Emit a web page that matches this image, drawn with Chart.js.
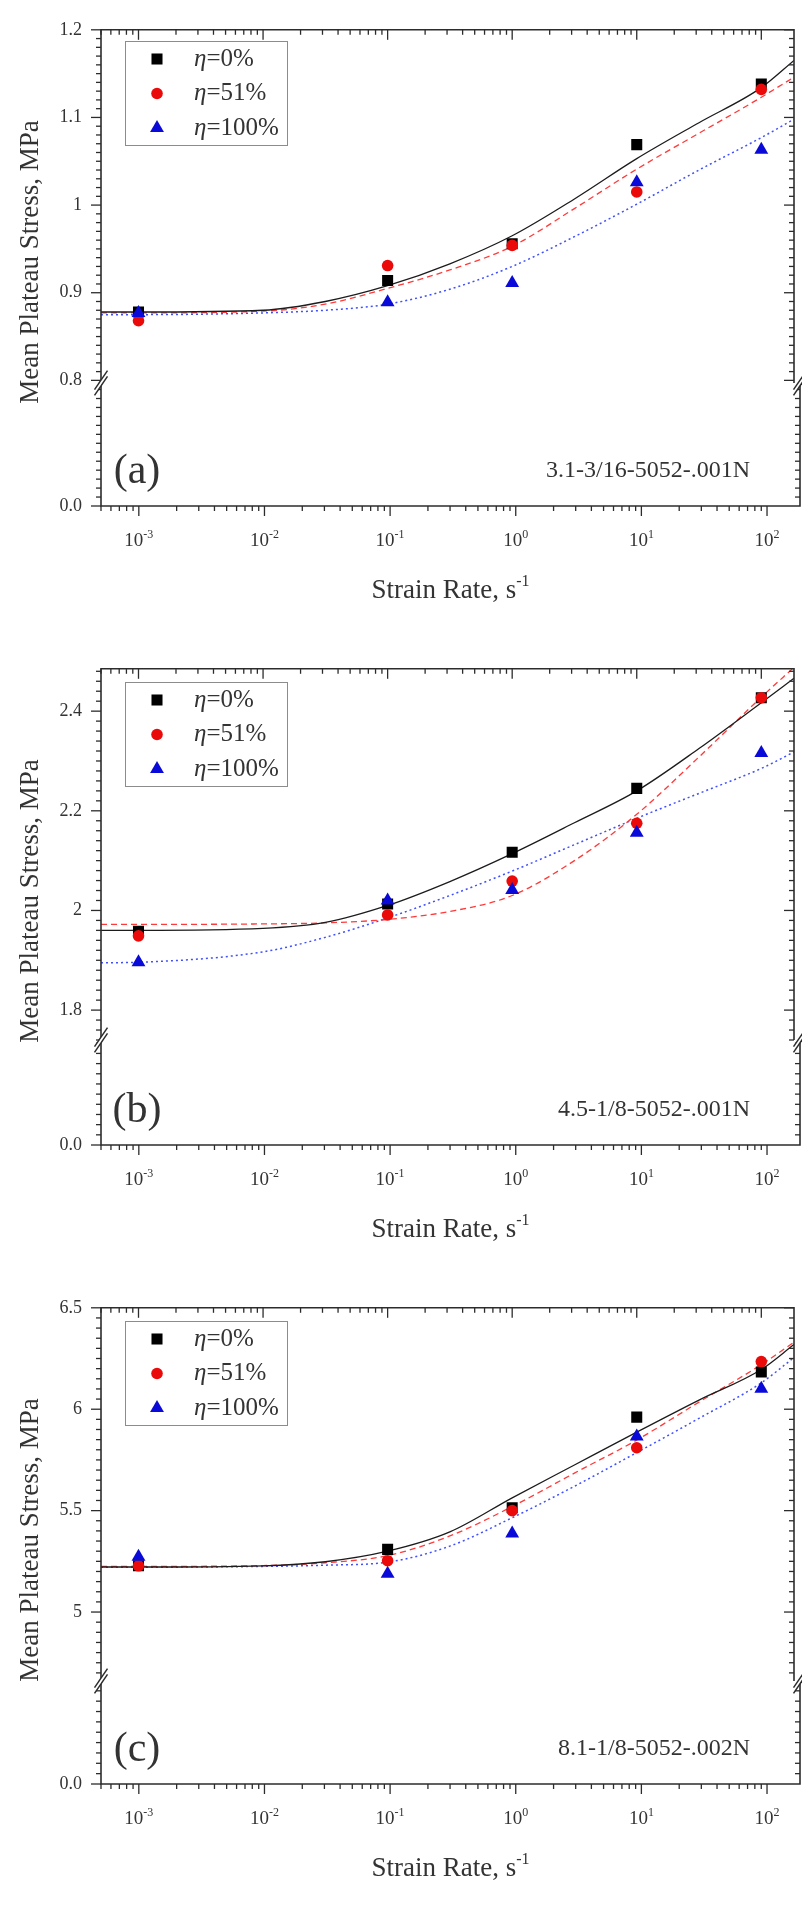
<!DOCTYPE html>
<html>
<head>
<meta charset="utf-8">
<title>Mean plateau stress vs strain rate</title>
<script src="https://cdn.jsdelivr.net/npm/chart.js@4.4.1/dist/chart.umd.min.js"></script>
<style>
  html, body { margin: 0; padding: 0; background: #ffffff; }
  .panel { position: relative; width: 802px; height: 639px; }
  .panel canvas { position: absolute; left: 0; top: 0; }
</style>
</head>
<body>
<div class="panel"><canvas id="a-up" width="802" height="639"></canvas><canvas id="a-low" width="802" height="639"></canvas></div>
<div class="panel"><canvas id="b-up" width="802" height="639"></canvas><canvas id="b-low" width="802" height="639"></canvas></div>
<div class="panel"><canvas id="c-up" width="802" height="639"></canvas><canvas id="c-low" width="802" height="639"></canvas></div>
<script>
// ---------------- data ----------------
// strain rates of the tests (1/s)
const rates = [1e-3, 1e-1, 1, 10, 100];
// strain rates at which the fitted curves are listed
const fitRates = [5e-4, 1e-3, 1e-2, 3.16e-2, 1e-1, 3.16e-1, 1, 3.16, 10, 31.6, 100, 183];
// decade ticks on the strain-rate axis and their exponents
const rateTicks = [1e-3, 1e-2, 1e-1, 1, 10, 100];
const rateExponents = ['-3', '-2', '-1', '0', '1', '2'];
const seriesLabels = ['0%', '51%', '100%'];

// (a) 3.1-3/16-5052-.001N
const stressA0 = [0.878, 0.914, 0.956, 1.069, 1.138];
const stressA51 = [0.868, 0.931, 0.954, 1.015, 1.132];
const stressA100 = [0.877, 0.889, 0.911, 1.026, 1.063];
const fitA0 = [0.878, 0.878, 0.880, 0.890, 0.908, 0.933, 0.965, 1.007, 1.053, 1.094, 1.134, 1.165];
const fitA51 = [0.877, 0.877, 0.879, 0.887, 0.905, 0.926, 0.953, 0.996, 1.041, 1.082, 1.123, 1.146];
const fitA100 = [0.875, 0.875, 0.877, 0.880, 0.887, 0.904, 0.930, 0.964, 1.001, 1.040, 1.077, 1.098];
const yTicksA = [0.8, 0.9, 1, 1.1, 1.2];
const yLabelsA = ['0.8', '0.9', '1', '1.1', '1.2'];

// (b) 4.5-1/8-5052-.001N
const stressB0 = [1.958, 2.013, 2.117, 2.245, 2.427];
const stressB51 = [1.949, 1.991, 2.059, 2.175, 2.427];
const stressB100 = [1.896, 2.020, 2.041, 2.156, 2.316];
const fitB0 = [1.960, 1.960, 1.964, 1.976, 2.010, 2.058, 2.114, 2.176, 2.240, 2.325, 2.417, 2.466];
const fitB51 = [1.972, 1.972, 1.973, 1.975, 1.982, 1.998, 2.030, 2.100, 2.193, 2.308, 2.428, 2.488];
const fitB100 = [1.895, 1.896, 1.917, 1.946, 1.985, 2.030, 2.079, 2.132, 2.185, 2.235, 2.285, 2.318];
const yTicksB = [1.8, 2, 2.2, 2.4];
const yLabelsB = ['1.8', '2', '2.2', '2.4'];

// (c) 8.1-1/8-5052-.002N
const stressC0 = [5.228, 5.309, 5.514, 5.961, 6.184];
const stressC51 = [5.228, 5.253, 5.500, 5.810, 6.235];
const stressC100 = [5.273, 5.189, 5.387, 5.866, 6.101];
const fitC0 = [5.222, 5.222, 5.228, 5.248, 5.300, 5.395, 5.563, 5.725, 5.887, 6.045, 6.196, 6.319];
const fitC51 = [5.225, 5.225, 5.229, 5.243, 5.278, 5.375, 5.520, 5.685, 5.848, 6.035, 6.220, 6.330];
const fitC100 = [5.221, 5.221, 5.225, 5.231, 5.246, 5.325, 5.465, 5.620, 5.786, 5.955, 6.130, 6.255];
const yTicksC = [5, 5.5, 6, 6.5];
const yLabelsC = ['5', '5.5', '6', '6.5'];

// ---------------- layout & style ----------------
const X_MIN = 5e-4, X_MAX = 183;
const PANEL_H = 639;
const PLOT_TOP = 22;      // top of the stress segment
const PLOT_BOTTOM = 506;  // 0.0 baseline
const Y_AXIS_W = 101;
const RIGHT_PAD = 2;
const MAJOR = 10, MINOR = 5;
const AXIS_COLOR = '#2c2c2c';
const TEXT_COLOR = '#333333';
const SERIF = '"Liberation Serif", "Times New Roman", serif';

const seriesStyle = [
  { color: '#000000', point: 'rect', radius: 7.8, line: '#1c1c1c', dash: [], width: 1.3 },
  { color: '#ea0a0a', point: 'circle', radius: 5.8, line: '#ff3a3a', dash: [6, 4], width: 1.3 },
  { color: '#0a0ad8', point: 'triangle', radius: 8, line: '#4050ff', dash: [2, 3], width: 1.5 }
];

const panels = [
  { upId: 'a-up', lowId: 'a-low', letter: '(a)', spec: '3.1-3/16-5052-.001N',
    yMin: 0.797, yMax: 1.2, breakY: 383, yTicks: yTicksA, yLabels: yLabelsA, yMinor: 0.01,
    pts: [stressA0, stressA51, stressA100], fits: [fitA0, fitA51, fitA100], legendTop: 41 },
  { upId: 'b-up', lowId: 'b-low', letter: '(b)', spec: '4.5-1/8-5052-.001N',
    yMin: 1.74, yMax: 2.485, breakY: 401, yTicks: yTicksB, yLabels: yLabelsB, yMinor: 0.02,
    pts: [stressB0, stressB51, stressB100], fits: [fitB0, fitB51, fitB100], legendTop: 43 },
  { upId: 'c-up', lowId: 'c-low', letter: '(c)', spec: '8.1-1/8-5052-.002N',
    yMin: 4.66, yMax: 6.5, breakY: 403, yTicks: yTicksC, yLabels: yLabelsC, yMinor: 0.05,
    pts: [stressC0, stressC51, stressC100], fits: [fitC0, fitC51, fitC100], legendTop: 43 }
];

// ---------------- drawing helpers ----------------
function seg(ctx, x1, y1, x2, y2) {
  ctx.beginPath(); ctx.moveTo(x1, y1); ctx.lineTo(x2, y2); ctx.stroke();
}

function logTickValues(min, max) {
  const out = [];
  for (let e = Math.floor(Math.log10(min)); e <= Math.ceil(Math.log10(max)); e++) {
    for (let m = 1; m <= 9; m++) {
      const v = m * Math.pow(10, e);
      if (v >= min * 0.999 && v <= max * 1.001) out.push({ v: v, major: m === 1 });
    }
  }
  return out;
}

// multiples of step lying inside [min, max]
function stepsWithin(min, max, step) {
  const out = [];
  for (let k = Math.ceil(min / step - 1e-9); k * step <= max + 1e-9; k++) {
    out.push(+(k * step).toFixed(6));
  }
  return out;
}

function drawMarker(ctx, s, x, y) {
  ctx.fillStyle = s.color;
  ctx.beginPath();
  if (s.point === 'rect') {
    const h = s.radius * Math.SQRT1_2;
    ctx.rect(x - h, y - h, 2 * h, 2 * h);
  } else if (s.point === 'circle') {
    ctx.arc(x, y, s.radius, 0, Math.PI * 2);
  } else {
    const r = s.radius;
    ctx.moveTo(x, y - r);
    ctx.lineTo(x + r * Math.sin(2 * Math.PI / 3), y + r * 0.5);
    ctx.lineTo(x - r * Math.sin(2 * Math.PI / 3), y + r * 0.5);
    ctx.closePath();
  }
  ctx.fill();
}

// base text with a raised exponent, centred on cx
function drawPower(ctx, base, exp, cx, baseline, baseSize, supSize, raise) {
  ctx.font = baseSize + 'px ' + SERIF;
  const wb = ctx.measureText(base).width;
  ctx.font = supSize + 'px ' + SERIF;
  const we = ctx.measureText(exp).width;
  const x0 = cx - (wb + we) / 2;
  ctx.textAlign = 'left';
  ctx.textBaseline = 'alphabetic';
  ctx.font = baseSize + 'px ' + SERIF;
  ctx.fillText(base, x0, baseline);
  ctx.font = supSize + 'px ' + SERIF;
  ctx.fillText(exp, x0 + wb, baseline - raise);
}

function breakMark(ctx, cx, cy) {
  const hx = 6.5, hy = 9.5, g = 2.8;
  const a1 = [cx - hx, cy + hy + g], a2 = [cx + hx, cy - hy + g];
  const b1 = [cx - hx, cy + hy - g], b2 = [cx + hx, cy - hy - g];
  ctx.fillStyle = '#ffffff';
  ctx.beginPath();
  ctx.moveTo(a1[0], a1[1]); ctx.lineTo(a2[0], a2[1]);
  ctx.lineTo(b2[0], b2[1]); ctx.lineTo(b1[0], b1[1]);
  ctx.closePath(); ctx.fill();
  ctx.strokeStyle = AXIS_COLOR; ctx.lineWidth = 1.5;
  seg(ctx, a1[0], a1[1], a2[0], a2[1]);
  seg(ctx, b1[0], b1[1], b2[0], b2[1]);
}

function drawLegend(ctx, p) {
  const left = 125, top = p.legendTop, w = 162, h = 104;
  ctx.save();
  ctx.strokeStyle = '#8c8c8c';
  ctx.lineWidth = 1;
  ctx.strokeRect(left + 0.5, top + 0.5, w, h);
  seriesStyle.forEach(function (s, i) {
    const cy = top + 18 + i * 34.5;
    drawMarker(ctx, s, left + 32, cy);
    ctx.fillStyle = TEXT_COLOR;
    ctx.textAlign = 'left';
    ctx.textBaseline = 'middle';
    ctx.font = 'italic 25px ' + SERIF;
    ctx.fillText('η', left + 69, cy);
    const wEta = ctx.measureText('η').width;
    ctx.font = '25px ' + SERIF;
    ctx.fillText('=' + seriesLabels[i], left + 69 + wEta, cy);
  });
  ctx.restore();
}

// frame, ticks and legend of the stress segment
function upperFrame(p) {
  return {
    id: 'upperFrame',
    afterDatasetsDraw(chart) {
      const ctx = chart.ctx, a = chart.chartArea;
      const x = chart.scales.x, y = chart.scales.y;
      ctx.save();
      ctx.strokeStyle = AXIS_COLOR;
      ctx.lineWidth = 1.6;
      ctx.beginPath();
      ctx.moveTo(a.left, a.bottom); ctx.lineTo(a.left, a.top);
      ctx.lineTo(a.right, a.top); ctx.lineTo(a.right, a.bottom);
      ctx.stroke();
      ctx.lineWidth = 1.3;
      stepsWithin(p.yMin, p.yMax, p.yMinor).forEach(function (v) {
        const py = y.getPixelForValue(v);
        const major = p.yTicks.some(function (t) { return Math.abs(t - v) < 1e-6; });
        const len = major ? MAJOR : MINOR;
        seg(ctx, a.left - len, py, a.left, py);
        seg(ctx, a.right - len, py, a.right, py);
      });
      logTickValues(X_MIN, X_MAX).forEach(function (t) {
        const px = x.getPixelForValue(t.v);
        seg(ctx, px, a.top, px, a.top + (t.major ? MAJOR : MINOR));
      });
      ctx.restore();
      drawLegend(ctx, p);
    }
  };
}

// frame of the 0.0 stub, strain-rate axis, titles and captions
function lowerFrame(p) {
  return {
    id: 'lowerFrame',
    afterDraw(chart) {
      const ctx = chart.ctx, a = chart.chartArea;
      const x = chart.scales.x, y = chart.scales.y;
      ctx.save();
      ctx.strokeStyle = AXIS_COLOR;
      ctx.lineWidth = 1.6;
      ctx.beginPath();
      ctx.moveTo(a.left, a.top); ctx.lineTo(a.left, a.bottom);
      ctx.lineTo(a.right, a.bottom); ctx.lineTo(a.right, a.top);
      ctx.stroke();
      ctx.lineWidth = 1.3;
      stepsWithin(0, p.stubMax, p.yMinor).forEach(function (v) {
        if (v >= p.stubMax - 1e-9) return;
        const py = y.getPixelForValue(v);
        if (v === 0) { seg(ctx, a.left - MAJOR, py, a.left, py); return; }
        seg(ctx, a.left - MINOR, py, a.left, py);
        seg(ctx, a.right - MINOR, py, a.right, py);
      });
      logTickValues(X_MIN, X_MAX).forEach(function (t) {
        const px = x.getPixelForValue(t.v);
        seg(ctx, px, a.bottom, px, a.bottom + (t.major ? MAJOR : MINOR));
      });

      breakMark(ctx, a.left, a.top);
      breakMark(ctx, a.right, a.top);

      ctx.fillStyle = TEXT_COLOR;
      rateTicks.forEach(function (r, i) {
        drawPower(ctx, '10', rateExponents[i], x.getPixelForValue(r), a.bottom + 40, 19, 12, 8);
      });
      drawPower(ctx, 'Strain Rate, s', '-1', (a.left + a.right) / 2, a.bottom + 92, 27, 16, 12);

      ctx.save();
      ctx.translate(31, 262);
      ctx.rotate(-Math.PI / 2);
      ctx.textAlign = 'center';
      ctx.textBaseline = 'middle';
      ctx.font = '27px ' + SERIF;
      ctx.fillText('Mean Plateau Stress, MPa', 0, 0);
      ctx.restore();

      ctx.textBaseline = 'middle';
      ctx.textAlign = 'center';
      ctx.font = '42px ' + SERIF;
      ctx.fillText(p.letter, 137, 472);
      ctx.textAlign = 'right';
      ctx.font = '24px ' + SERIF;
      ctx.fillText(p.spec, 750, 471);
      ctx.restore();
    }
  };
}

// ---------------- charts ----------------
panels.forEach(function (p) {
  // the 0.0 stub keeps the same value-per-pixel as the stress segment
  const perPx = (p.yMax - p.yMin) / (p.breakY - PLOT_TOP);
  p.stubMax = (PLOT_BOTTOM - p.breakY) * perPx;

  const datasets = [];
  p.fits.forEach(function (f, i) {
    const s = seriesStyle[i];
    datasets.push({
      label: 'fit ' + seriesLabels[i],
      data: fitRates.map(function (r, k) { return { x: r, y: f[k] }; }),
      showLine: true,
      pointRadius: 0,
      borderColor: s.line,
      borderWidth: s.width,
      borderDash: s.dash,
      cubicInterpolationMode: 'monotone',
      fill: false,
      order: 10 + i
    });
  });
  p.pts.forEach(function (v, i) {
    const s = seriesStyle[i];
    datasets.push({
      label: 'η=' + seriesLabels[i],
      data: rates.map(function (r, k) { return { x: r, y: v[k] }; }),
      showLine: false,
      pointStyle: s.point,
      pointRadius: s.radius,
      pointHoverRadius: s.radius,
      backgroundColor: s.color,
      borderColor: s.color,
      borderWidth: 0,
      order: 3 - i
    });
  });

  new Chart(document.getElementById(p.upId), {
    type: 'scatter',
    data: { datasets: datasets },
    options: {
      responsive: false,
      animation: false,
      devicePixelRatio: 1,
      layout: { padding: { top: PLOT_TOP, bottom: PANEL_H - p.breakY, left: 0, right: RIGHT_PAD } },
      plugins: { legend: { display: false }, tooltip: { enabled: false } },
      scales: {
        x: { type: 'logarithmic', min: X_MIN, max: X_MAX, display: false },
        y: {
          type: 'linear',
          min: p.yMin,
          max: p.yMax,
          afterFit: function (s) { s.width = Y_AXIS_W; },
          afterBuildTicks: function (s) { s.ticks = p.yTicks.map(function (v) { return { value: v }; }); },
          grid: { display: false, drawTicks: false },
          border: { display: false },
          ticks: {
            autoSkip: false,
            padding: 19,
            color: TEXT_COLOR,
            font: { family: SERIF, size: 18 },
            callback: function (value) {
              const i = p.yTicks.findIndex(function (t) { return Math.abs(t - value) < 1e-6; });
              return i >= 0 ? p.yLabels[i] : '';
            }
          }
        }
      }
    },
    plugins: [upperFrame(p)]
  });

  new Chart(document.getElementById(p.lowId), {
    type: 'scatter',
    data: { datasets: [] },
    options: {
      responsive: false,
      animation: false,
      devicePixelRatio: 1,
      layout: { padding: { top: p.breakY, bottom: 0, left: 0, right: RIGHT_PAD } },
      plugins: { legend: { display: false }, tooltip: { enabled: false } },
      scales: {
        x: {
          type: 'logarithmic', min: X_MIN, max: X_MAX, position: 'bottom',
          afterFit: function (s) { s.height = PANEL_H - PLOT_BOTTOM; },
          ticks: { display: false },
          grid: { display: false, drawTicks: false },
          border: { display: false }
        },
        y: {
          type: 'linear', min: 0, max: p.stubMax,
          afterFit: function (s) { s.width = Y_AXIS_W; },
          afterBuildTicks: function (s) { s.ticks = [{ value: 0 }]; },
          grid: { display: false, drawTicks: false },
          border: { display: false },
          ticks: {
            autoSkip: false,
            padding: 19,
            color: TEXT_COLOR,
            font: { family: SERIF, size: 18 },
            callback: function () { return '0.0'; }
          }
        }
      }
    },
    plugins: [lowerFrame(p)]
  });
});
</script>
</body>
</html>
